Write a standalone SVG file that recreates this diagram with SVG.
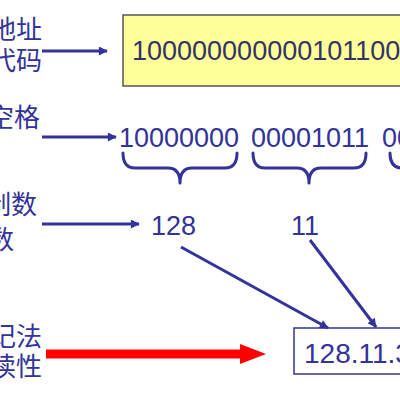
<svg xmlns="http://www.w3.org/2000/svg" width="400" height="400" viewBox="0 0 400 400">
  <defs>
    <style>
      .cn { font-family: "Noto Sans CJK SC", "Noto Sans", sans-serif; font-size: 26px; fill: #333399; text-anchor: end; }
      .num { font-family: "Liberation Sans", Arial, sans-serif; font-size: 27px; fill: #333399; }
      .boxnum { font-family: "Liberation Sans", Arial, sans-serif; font-size: 27px; fill: #333366; }
      .ln { stroke: #333399; stroke-width: 3; fill: none; }
      .brace { stroke: #333399; stroke-width: 3; fill: none; stroke-linecap: round; stroke-linejoin: round; }
    </style>
    <marker id="ah" viewBox="0 0 10 10" refX="9" refY="5" markerWidth="4" markerHeight="3" markerUnits="strokeWidth" orient="auto">
      <path d="M0,0 L10,5 L0,10 z" fill="#333399"/>
    </marker>
  </defs>

  <rect width="400" height="400" fill="#ffffff"/>

  <g id="label-binary">
    <text class="cn" x="42" y="39">地址</text>
    <text class="cn" x="42" y="70">代码</text>
  </g>
  <g id="label-space">
    <text class="cn" x="40" y="127">空格</text>
  </g>
  <g id="label-decimal">
    <text class="cn" x="37" y="214">制数</text>
    <text class="cn" x="14" y="249">数</text>
  </g>
  <g id="label-dotted">
    <text class="cn" x="42" y="346">记法</text>
    <text class="cn" x="42" y="376">读性</text>
  </g>

  <g id="node-binary32">
    <rect x="123" y="15" width="300" height="71" fill="#FFFF99" stroke="#555555" stroke-width="1.5"/>
    <text class="boxnum" x="132" y="60">10000000000010110000001100011111</text>
  </g>

  <g id="node-octets">
    <text class="num" x="119" y="147">10000000</text>
    <text class="num" x="251" y="147">00001011</text>
    <text class="num" x="382" y="147">00000011</text>
  </g>

  <g id="braces">
    <path class="brace" d="M123,153 Q123,168 135,168 L168,168 Q180,168 180,183 Q180,168 192,168 L225,168 Q237,168 237,153"/>
    <path class="brace" d="M253,153 Q253,168 265,168 L297,168 Q309,168 309,183 Q309,168 321,168 L354,168 Q366,168 366,153"/>
    <path class="brace" d="M390,153 Q390,168 402,168 L420,168"/>
  </g>

  <g id="node-128">
    <text class="num" x="151" y="235">128</text>
  </g>
  <g id="node-11">
    <text class="num" x="291" y="235">11</text>
  </g>

  <g id="node-dotted">
    <rect x="294" y="328" width="130" height="46" fill="#ffffff" stroke="#333399" stroke-width="1.5"/>
    <text class="num" x="304" y="363" style="font-size:28px">128.11.3.31</text>
  </g>

  <g id="connectors">
    <line class="ln" x1="42" y1="51" x2="107" y2="51" marker-end="url(#ah)"/>
    <line class="ln" x1="42" y1="137" x2="116" y2="137" marker-end="url(#ah)"/>
    <line class="ln" x1="42" y1="224" x2="139" y2="224" marker-end="url(#ah)"/>
    <line class="ln" x1="181" y1="247" x2="328" y2="328" marker-end="url(#ah)"/>
    <line class="ln" x1="310" y1="240" x2="376" y2="327" marker-end="url(#ah)"/>
    <line x1="46" y1="354" x2="242" y2="354" stroke="#FF0000" stroke-width="9"/>
    <path d="M240,344 L266,354 L240,364 z" fill="#FF0000"/>
  </g>
</svg>
